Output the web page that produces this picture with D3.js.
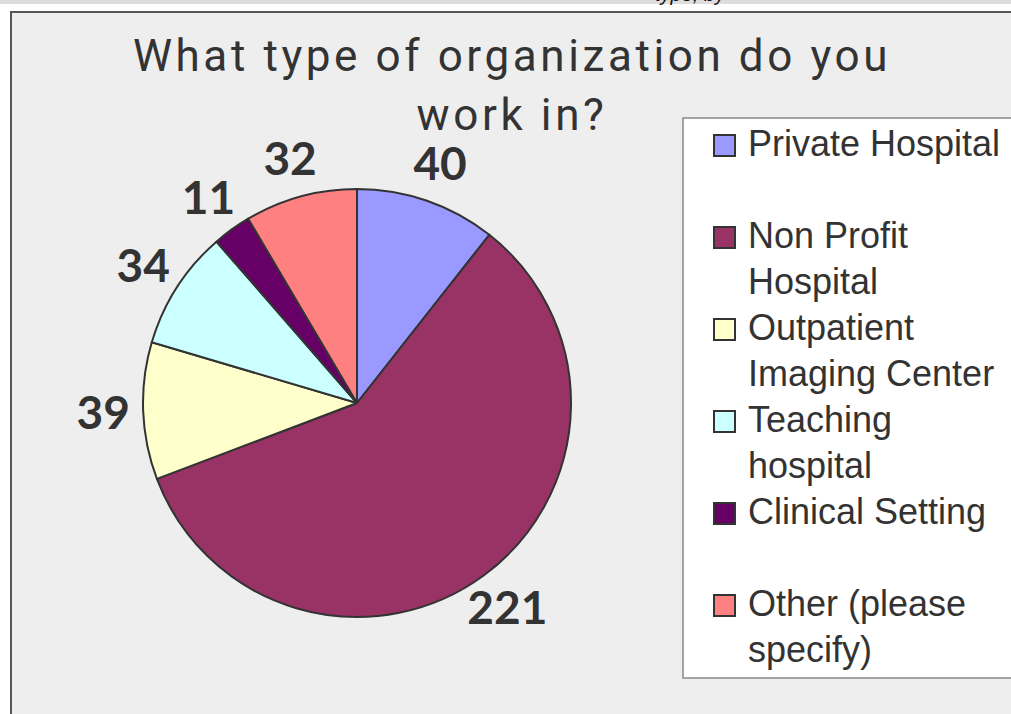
<!DOCTYPE html>
<html>
<head>
<meta charset="utf-8">
<script src="https://cdn.jsdelivr.net/npm/d3@7"></script>
<style>
  html, body { margin: 0; padding: 0; background: #fff; overflow: hidden; }
  svg { display: block; }
</style>
</head>
<body>
<div id="chart"></div>
<script>
// survey answers
const categories = ["Private Hospital", "Non Profit Hospital", "Outpatient Imaging Center", "Teaching hospital", "Clinical Setting", "Other (please specify)"]
const counts = [40, 221, 39, 34, 11, 32]
const legendLines = [["Private Hospital", ""], ["Non Profit", "Hospital"], ["Outpatient", "Imaging Center"], ["Teaching", "hospital"], ["Clinical Setting", ""], ["Other (please", "specify)"]]
const colors = ["#9999ff", "#993366", "#ffffcc", "#ccffff", "#660066", "#ff8080"]
const titleLines = ["What type of organization do you", "work in?"]

const W = 1011, H = 714

const svg = d3.select("#chart").append("svg")
  .attr("width", W)
  .attr("height", H)

// strip of the page above the chart
svg.append("rect").attr("x", 0).attr("y", 0).attr("width", W).attr("height", 4).attr("fill", "#dddddd")
svg.append("text")
  .attr("x", 655).attr("y", 1)
  .attr("font-family", "Liberation Sans, Arial, sans-serif")
  .attr("font-style", "italic")
  .attr("font-size", 20)
  .attr("fill", "#111")
  .text("type, by")

// chart area
svg.append("rect")
  .attr("x", 11).attr("y", 12)
  .attr("width", W + 20).attr("height", H + 20)
  .attr("fill", "#eeeeee")
  .attr("stroke", "#555")
  .attr("stroke-width", 2)

// title
svg.append("g").selectAll("text")
  .data(titleLines)
  .join("text")
    .attr("x", 512)
    .attr("y", (d, i) => 71 + i * 59)
    .attr("text-anchor", "middle")
    .attr("font-family", "Roboto, sans-serif")
    .attr("font-size", 44)
    .attr("letter-spacing", "3.6px")
    .attr("fill", "#333")
    .text(d => d)

// pie
const cx = 357, cy = 403, r = 214
const pie = d3.pie().sort(null).value(d => d)
const arcs = pie(counts)
const arc = d3.arc().innerRadius(0).outerRadius(r)

const g = svg.append("g").attr("transform", `translate(${cx},${cy})`)

g.selectAll("path")
  .data(arcs)
  .join("path")
    .attr("d", arc)
    .attr("fill", (d, i) => colors[i])
    .attr("stroke", "#333")
    .attr("stroke-width", 2)
    .attr("stroke-linejoin", "round")

// value labels outside the slices
g.selectAll(".label")
  .data(arcs)
  .join("text")
    .attr("class", "label")
    .attr("transform", d => {
      const a = (d.startAngle + d.endAngle) / 2
      const dist = r + 40
      return `translate(${Math.sin(a) * dist},${-Math.cos(a) * dist})`
    })
    .attr("text-anchor", "middle")
    .attr("dy", "0.36em")
    .attr("font-family", "Lato, sans-serif")
    .attr("font-weight", "bold")
    .attr("font-size", 46)
    .attr("fill", "#333")
    .text(d => d.data)

// legend
const legend = svg.append("g")
legend.append("rect")
  .attr("x", 683).attr("y", 118)
  .attr("width", 400).attr("height", 560)
  .attr("fill", "#fff")
  .attr("stroke", "#888")
  .attr("stroke-width", 1.5)

const item = legend.selectAll(".item")
  .data(categories)
  .join("g")
    .attr("class", "item")
    .attr("transform", (d, i) => `translate(713,${156 + i * 92})`)

item.append("rect")
  .attr("x", 1).attr("y", -21)
  .attr("width", 21).attr("height", 21)
  .attr("fill", (d, i) => colors[i])
  .attr("stroke", "#333")
  .attr("stroke-width", 2)

item.append("text")
  .attr("x", 35)
  .attr("font-family", "Liberation Sans, Arial, sans-serif")
  .attr("font-size", 36)
  .attr("fill", "#333")
  .selectAll("tspan")
  .data((d, i) => legendLines[i])
  .join("tspan")
    .attr("x", 35)
    .attr("y", (d, j) => j * 46)
    .text(d => d)
</script>
</body>
</html>
